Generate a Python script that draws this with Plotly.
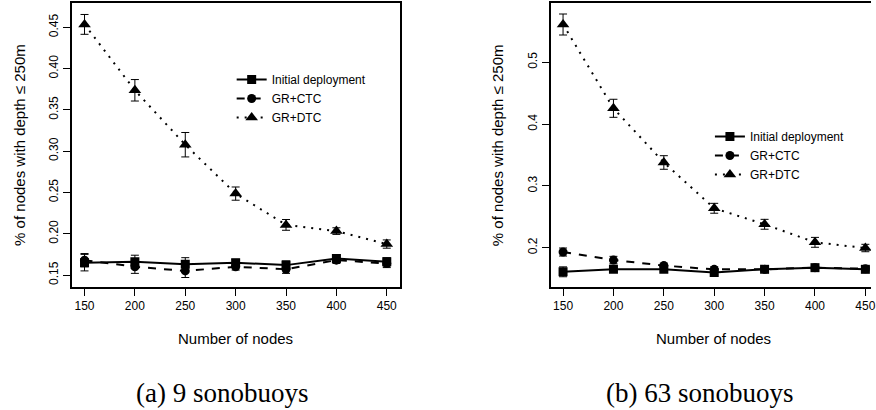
import plotly.graph_objects as go

nodes = [150, 200, 250, 300, 350, 400, 450]

# (a) 9 sonobuoys
a_init = [0.165, 0.166, 0.163, 0.165, 0.162, 0.170, 0.166]
a_init_err = [0.010, 0.008, 0.008, 0.004, 0.005, 0.004, 0.005]
a_ctc = [0.168, 0.160, 0.155, 0.160, 0.157, 0.168, 0.164]
a_ctc_err = [0.008, 0.008, 0.008, 0.004, 0.005, 0.004, 0.005]
a_dtc = [0.4535, 0.3737, 0.3078, 0.2486, 0.2107, 0.2032, 0.1875]
a_dtc_err = [0.012, 0.013, 0.0148, 0.008, 0.0065, 0.004, 0.005]

# (b) 63 sonobuoys
b_init = [0.161, 0.165, 0.165, 0.160, 0.165, 0.1677, 0.165]
b_init_err = [0.008, 0.004, 0.004, 0.004, 0.004, 0.004, 0.004]
b_ctc = [0.193, 0.180, 0.171, 0.165, 0.165, 0.1677, 0.166]
b_ctc_err = [0.0065, 0.006, 0.004, 0.004, 0.003, 0.003, 0.003]
b_dtc = [0.5612, 0.4256, 0.3379, 0.2638, 0.2379, 0.2087, 0.1995]
b_dtc_err = [0.017, 0.0146, 0.011, 0.008, 0.008, 0.008, 0.006]

series_names = ["Initial deployment", "GR+CTC", "GR+DTC"]
y_title = "% of nodes with depth \u2264 250m"
x_title = "Number of nodes"
captions = ["(a) 9 sonobuoys", "(b) 63 sonobuoys"]

SANS = "Liberation Sans, Arial, sans-serif"
SERIF = "Liberation Serif, Times New Roman, serif"

styles = [
    dict(dash="solid", symbol="square", size=9),
    dict(dash="8px,8px", symbol="circle", size=9),
    dict(dash="2px,6px", symbol="triangle-up", size=11),
]

fig = go.Figure()

panels = [
    ((a_init, a_init_err), (a_ctc, a_ctc_err), (a_dtc, a_dtc_err)),
    ((b_init, b_init_err), (b_ctc, b_ctc_err), (b_dtc, b_dtc_err)),
]
for p, panel in enumerate(panels):
    xa = "x" if p == 0 else "x2"
    ya = "y" if p == 0 else "y2"
    lg = "legend" if p == 0 else "legend2"
    for (vals, errs), name, st in zip(panel, series_names, styles):
        fig.add_trace(go.Scatter(
            x=nodes, y=vals, name=name, mode="lines+markers",
            xaxis=xa, yaxis=ya, legend=lg,
            line=dict(color="black", width=2, dash=st["dash"]),
            marker=dict(color="black", symbol=st["symbol"], size=st["size"]),
            error_y=dict(type="data", array=errs, visible=True,
                         color="black", thickness=1, width=4),
        ))

axis_common = dict(
    showgrid=False, zeroline=False, showline=True, linecolor="black",
    linewidth=1.5, ticks="outside", ticklen=7, tickwidth=1, tickcolor="black",
    tickfont=dict(family=SANS, size=12, color="black"),
    ticklabeloverflow="allow",
)

fig.update_layout(
    width=876, height=410,
    margin=dict(l=0, r=0, t=0, b=0),
    paper_bgcolor="white", plot_bgcolor="white",
    showlegend=True,
    xaxis=dict(domain=[72/876, 402/876], range=[137.17, 462.83],
               tickvals=nodes, mirror=True, anchor="y", **axis_common),
    yaxis=dict(domain=[1-287/410, 1-3/410], range=[0.1355, 0.4794],
               tickvals=[0.15, 0.20, 0.25, 0.30, 0.35, 0.40, 0.45],
               tickformat=".2f", tickangle=-90, mirror=True, anchor="x",
               **axis_common),
    xaxis2=dict(domain=[553.7/876, 1.0], range=[137.57, 455.6],
                tickvals=nodes, mirror=True, anchor="y2", **axis_common),
    yaxis2=dict(domain=[1-287/410, 1-3/410], range=[0.1364, 0.596],
                tickvals=[0.2, 0.3, 0.4, 0.5], tickformat=".1f",
                tickangle=-90, mirror=False, anchor="x2", **axis_common),
    legend=dict(x=233/876, y=1-65/410, xanchor="left", yanchor="top",
                bgcolor="rgba(0,0,0,0)",
                font=dict(family=SANS, size=12, color="black")),
    legend2=dict(x=714/876, y=1-122/410, xanchor="left", yanchor="top",
                 bgcolor="rgba(0,0,0,0)",
                 font=dict(family=SANS, size=12, color="black")),
)

annos = []
for cx in [19, 500]:
    annos.append(dict(text=y_title, x=cx/876, y=1-145/410, xref="paper", yref="paper",
                      showarrow=False, textangle=-90, xanchor="center", yanchor="middle",
                      font=dict(family=SANS, size=15, color="black")))
for cx in [237, 718]:
    annos.append(dict(text=x_title, x=cx/876, y=1-338/410, xref="paper", yref="paper",
                      showarrow=False, xanchor="center", yanchor="middle",
                      font=dict(family=SANS, size=15, color="black")))
for cx, cap in zip([223, 704], captions):
    annos.append(dict(text=cap, x=cx/876, y=1-393/410, xref="paper", yref="paper",
                      showarrow=False, xanchor="center", yanchor="middle",
                      font=dict(family=SERIF, size=27, color="black")))
fig.update_layout(annotations=annos)

fig.write_html("out.html")
